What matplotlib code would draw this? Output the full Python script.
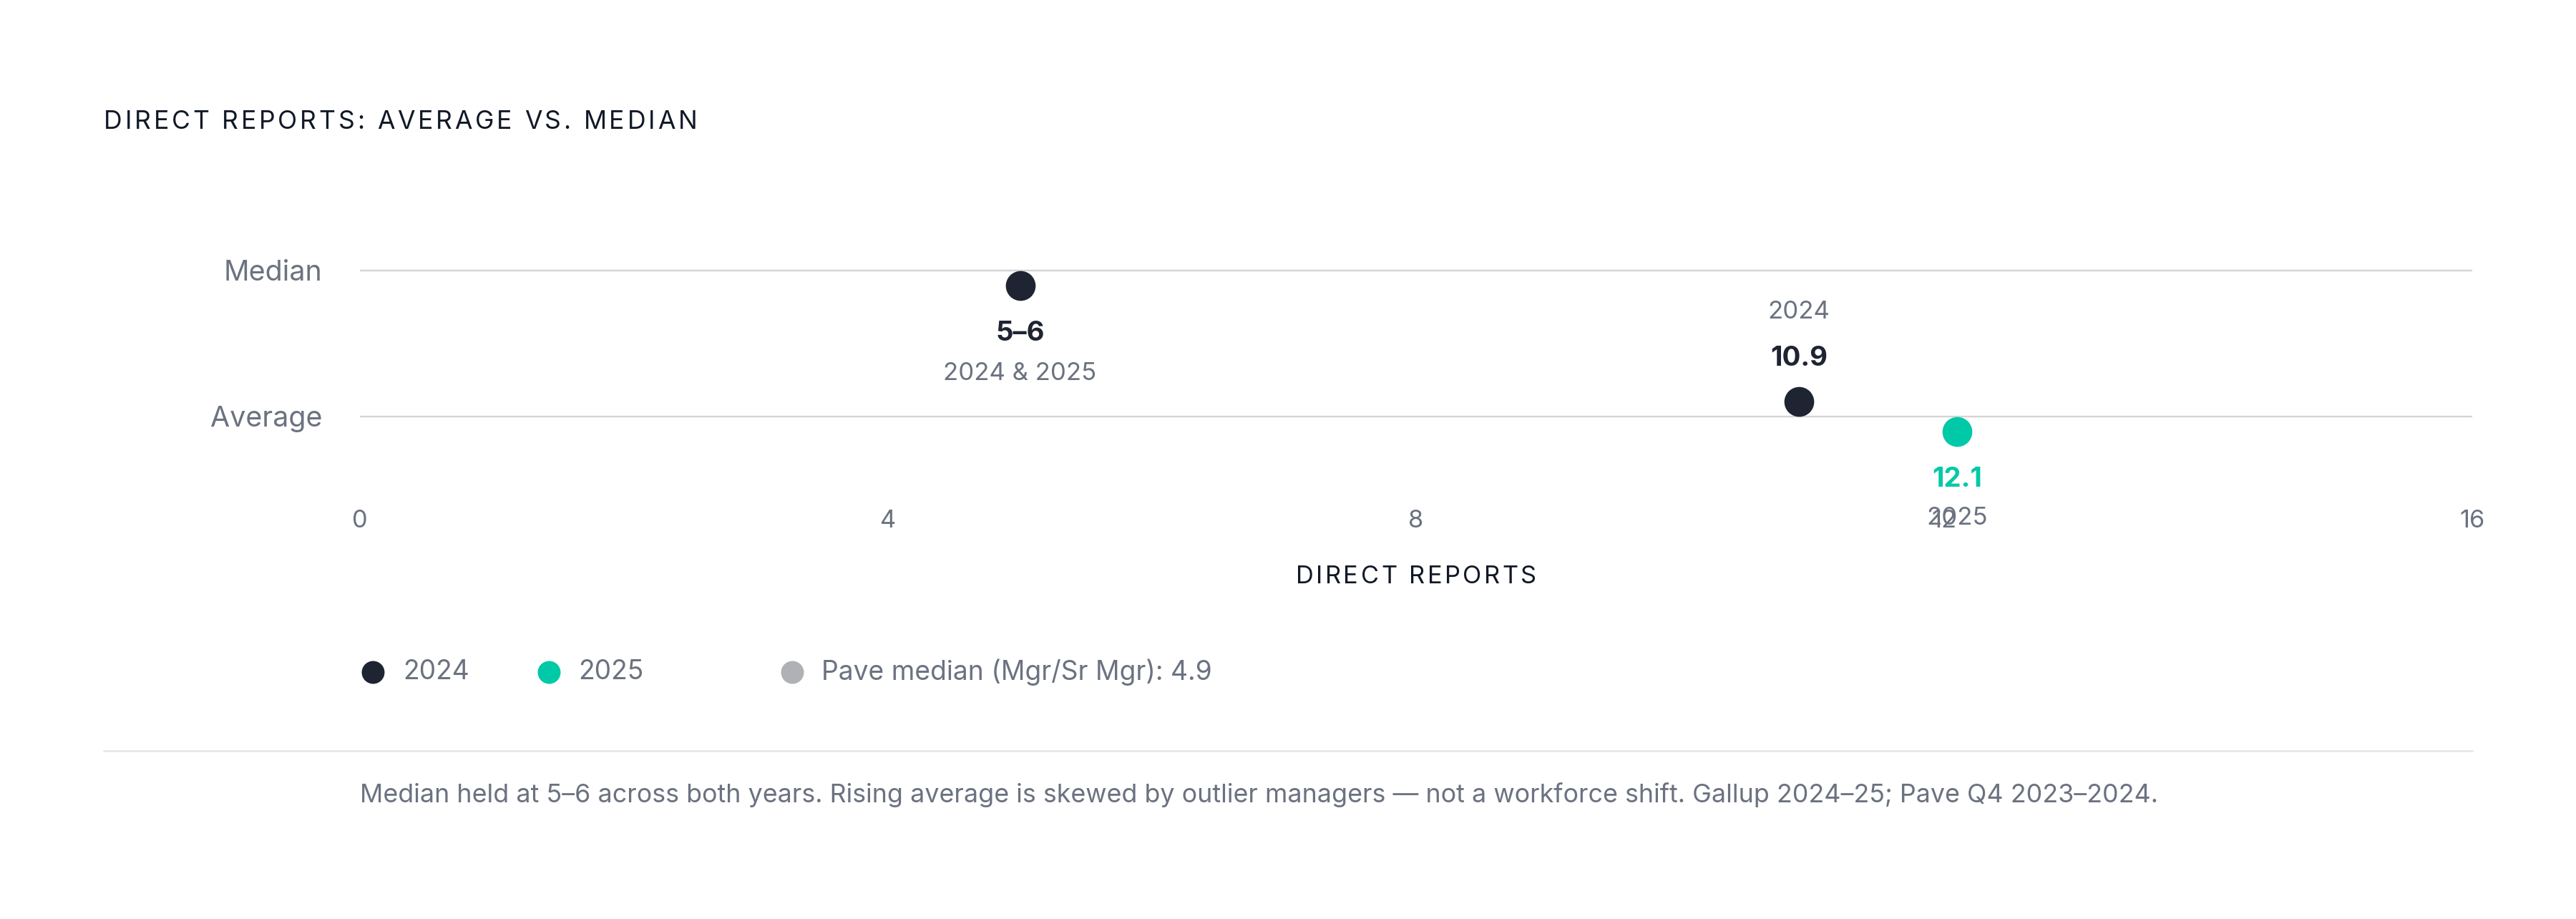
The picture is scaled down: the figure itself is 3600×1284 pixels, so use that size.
import matplotlib
matplotlib.use("Agg")
import matplotlib.pyplot as plt
from matplotlib.lines import Line2D
from matplotlib.transforms import offset_copy

plt.rcParams['font.family'] = ['Inter', 'DejaVu Sans']

# ---- data ----
row_labels = ['Average', 'Median']
row_pos = {'Average': 0, 'Median': 1}
years = ['2024', '2025']
average_values = [10.9, 12.1]
median_value = 5.0
median_label = '5–6'
median_sub = '2024 & 2025'
pave_median = 4.9
x_ticks = [0, 4, 8, 12, 16]
title = 'DIRECT REPORTS: AVERAGE VS. MEDIAN'
x_title = 'DIRECT REPORTS'
legend_labels = ['2024', '2025', 'Pave median (Mgr/Sr Mgr): 4.9']
footnote = ('Median held at 5–6 across both years. Rising average is skewed by outlier '
            'managers — not a workforce shift. Gallup 2024–25; Pave Q4 2023–2024.')

# ---- style ----
DARK = '#1e2432'
TEAL = '#00c9a7'
GREY_DOT = '#b0b1b6'
TXT = '#6b7280'
TITLE_C = '#111827'
GRID = '#d4d4d8'
SEP = '#e5e7eb'

W, H = 3600, 1284
DPI = 200
fig = plt.figure(figsize=(W / DPI, H / DPI), dpi=DPI)
fig.patch.set_facecolor('white')

def fx(x):
    return x / W

def fy(y):
    return 1 - y / H

renderer = fig.canvas.get_renderer()

def spaced_text(x_px, y_px, s, spacing_px, ha='left', **kw):
    def width(t):
        tmp = fig.text(0, 0, t + 'H', **kw)
        w1 = tmp.get_window_extent(renderer).width
        tmp.remove()
        tmp = fig.text(0, 0, 'H', **kw)
        w2 = tmp.get_window_extent(renderer).width
        tmp.remove()
        return w1 - w2
    total = width(s) + spacing_px * (len(s) - 1)
    x0 = x_px - total / 2 if ha == 'center' else x_px
    for i, ch in enumerate(s):
        if ch == ' ':
            continue
        xi = x0 + width(s[:i]) + spacing_px * i
        fig.text(fx(xi), fy(y_px), ch, ha='left', va='center', **kw)

# ---- axes ----
ax_left, ax_right, ax_top, ax_bottom = 503, 3455, 300, 700
ax = fig.add_axes([fx(ax_left), fy(ax_bottom), (ax_right - ax_left) / W, (ax_bottom - ax_top) / H])
ax.set_xlim(0, 16)
px_per_unit = 204.0
ax.set_ylim(-(ax_bottom - 582) / px_per_unit, 1 + (378 - ax_top) / px_per_unit)
for s in ax.spines.values():
    s.set_visible(False)
ax.set_facecolor('none')

for lab in row_labels:
    ax.axhline(row_pos[lab], color=GRID, lw=0.85, zorder=1)

ax.set_xticks(x_ticks)
ax.set_xticklabels([str(t) for t in x_ticks])
ax.set_yticks([row_pos[l] for l in row_labels])
ax.set_yticklabels(row_labels)
ax.tick_params(axis='x', length=0, pad=4.5, labelsize=12.4, labelcolor=TXT)
ax.tick_params(axis='y', length=0, pad=19, labelsize=14.2, labelcolor=TXT)

off = 7.56
down = offset_copy(ax.transData, fig=fig, x=0, y=-off, units='points')
up = offset_copy(ax.transData, fig=fig, x=0, y=off, units='points')
MS = 15
VAL_FS = 13.8
SUB_FS = 12.5

# median point (2024 & 2025)
ax.plot([median_value], [row_pos['Median']], 'o', ms=MS, color=DARK, mec='none',
        transform=down, zorder=3, clip_on=False)
ax.annotate(median_label, xy=(median_value, row_pos['Median']), xytext=(0, -31.6),
            textcoords='offset points', ha='center', va='center', fontsize=VAL_FS,
            fontweight='bold', color=DARK)
ax.annotate(median_sub, xy=(median_value, row_pos['Median']), xytext=(0, -52),
            textcoords='offset points', ha='center', va='center', fontsize=SUB_FS,
            color=TXT)

# average points
colors = [DARK, TEAL]
transforms = [up, down]
val_off = [29.2, -31.8]
yr_off = [52.4, -51.2]
for yr, v, c, tr, vo, yo in zip(years, average_values, colors, transforms, val_off, yr_off):
    ax.plot([v], [row_pos['Average']], 'o', ms=MS, color=c, mec='none',
            transform=tr, zorder=3, clip_on=False)
    ax.annotate(f'{v:.1f}', xy=(v, row_pos['Average']), xytext=(0, vo),
                textcoords='offset points', ha='center', va='center', fontsize=VAL_FS,
                fontweight='bold', color=c)
    ax.annotate(yr, xy=(v, row_pos['Average']), xytext=(0, yo),
                textcoords='offset points', ha='center', va='center', fontsize=SUB_FS,
                color=TXT)

# ---- title & axis title ----
spaced_text(145, 170, title, 3.8, fontsize=12.8, color=TITLE_C)
spaced_text((ax_left + ax_right) / 2, 806, x_title, 3.5, ha='center', fontsize=12.4,
            color=TITLE_C)

# ---- legend ----
leg_y = 939
leg_marker_x = [521, 767, 1107]
leg_text_x = [563, 808, 1148]
leg_colors = [DARK, TEAL, GREY_DOT]
for lab, mx, tx, c in zip(legend_labels, leg_marker_x, leg_text_x, leg_colors):
    fig.add_artist(Line2D([fx(mx)], [fy(leg_y)], marker='o', ms=11.5, color=c, mec='none',
                          linestyle='none', transform=fig.transFigure))
    fig.text(fx(tx), fy(leg_y), lab, ha='left', va='center', fontsize=13.4, color=TXT)

# ---- separator & footnote ----
fig.add_artist(Line2D([fx(145), fx(3455)], [fy(1049), fy(1049)], color=SEP, lw=0.9,
                      transform=fig.transFigure))
fig.text(fx(503), fy(1111), footnote, ha='left', va='center', fontsize=12.9, color=TXT)

fig.savefig('out.png', dpi=DPI, facecolor='white')
